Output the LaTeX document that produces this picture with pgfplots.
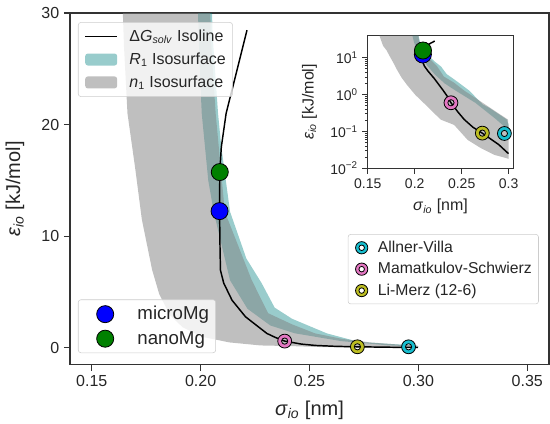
\documentclass[border=0pt]{standalone}
\usepackage{fontspec}
\setmainfont{Liberation Sans}
\usepackage{pgfplots}
\usepackage{pgfplotstable}
\pgfplotsset{compat=1.18}

\definecolor{txt}{HTML}{262626}
\definecolor{spine}{HTML}{333333}
\definecolor{ffcyan}{HTML}{17BECF}
\definecolor{ffpink}{HTML}{E377C2}
\definecolor{ffolive}{HTML}{BCBD22}
\definecolor{mgblue}{HTML}{0000FF}
\definecolor{mggreen}{HTML}{008000}
\definecolor{bandteal}{HTML}{008080}
\definecolor{bandgray}{HTML}{808080}

% ring marker: coloured annulus, open centre
\pgfdeclareplotmark{ffring}{%
  \pgfpathcircle{\pgfpointorigin}{\pgfplotmarksize}%
  \pgfpathcircle{\pgfpointorigin}{0.45\pgfplotmarksize}%
  \pgfseteorule
  \pgfusepathqfillstroke}

\newcommand{\sigio}{\textit{σ}\textsubscript{\textit{io}}}
\newcommand{\epsio}{\textit{ε}\textsubscript{\textit{io}}}

% isoline of Delta G_solv
\pgfplotstableread{
s e
0.2213 28.47
0.2117 21.0
0.2095 18.0
0.2088 15.75
0.2087 12.25
0.2089 9.0
0.2091 6.96
0.2106 5.8
0.2144 4.27
0.2206 2.78
0.2304 1.29
0.2343 0.93
0.2386 0.60
0.2463 0.33
0.2528 0.21
0.2620 0.13
0.2719 0.09
0.2894 0.044
0.2998 0.025
}\isoline

% n1 isosurface band (closed outline)
\pgfplotstableread{
s e
0.1625 40
0.1648 27
0.1664 21
0.1700 16
0.1730 11.5
0.1777 7.0
0.1810 4.8
0.1860 2.9
0.1918 1.83
0.2007 0.98
0.2133 0.48
0.2276 0.21
0.2420 0.15
0.2563 0.059
0.2706 0.035
0.2850 0.023
0.2940 0.020
0.3000 0.018
0.3000 0.12
0.2993 0.21
0.2900 0.30
0.2780 0.48
0.2650 0.80
0.2526 1.29
0.2420 2.10
0.2310 3.10
0.2235 6.05
0.2111 12.2
0.2069 21
0.2046 28
0.2040 40
}\nband

% R1 isosurface band (closed outline)
\pgfplotstableread{
s e
0.1975 40
0.1992 27
0.2005 21
0.2035 15
0.2060 12.2
0.2135 6.05
0.2215 3.5
0.2320 2.0
0.2432 1.3
0.2645 0.6
0.2860 0.22
0.2996 0.11
0.3000 0.15
0.2980 0.21
0.2785 0.45
0.2724 0.54
0.2580 1.29
0.2420 2.6
0.2340 3.6
0.2280 5.8
0.2210 8.0
0.2135 12.2
0.2095 18
0.2080 21
0.2055 28
0.2040 40
}\rband

\pgfplotsset{
  mainbox/.style={scale only axis, width=359.25pt, height=263.6pt,
    xmin=0.14, xmax=0.36, ymin=-1.5, ymax=30},
  legbox/.style={draw=black!20, fill=white, fill opacity=0.8, text opacity=1,
    rounded corners=2pt, text=txt, legend cell align=left},
  mgleg/.style={legend image code/.code={%
    \path (-17pt,0pt) (22pt,0pt); \draw[##1] plot coordinates {(0pt,0pt)};}},
  ffleg/.style={legend image code/.code={%
    \path (-7pt,0pt) (10pt,0pt); \draw[##1, mark size=4.6pt] plot coordinates {(0pt,0pt)};}},
  lineleg/.style={legend image code/.code={%
    \path (-2pt,0pt) (31pt,0pt);
    \draw[black, line width=1.2pt] (0pt,0pt) -- (24pt,0pt);}},
  tealleg/.style={legend image code/.code={%
    \path (-2pt,0pt) (31pt,0pt);
    \fill[bandteal, fill opacity=0.4, draw=none] (0pt,-4.5pt) rectangle (24pt,4.5pt);}},
  grayleg/.style={legend image code/.code={%
    \path (-2pt,0pt) (31pt,0pt);
    \fill[bandgray, fill opacity=0.5, draw=none] (0pt,-4.5pt) rectangle (24pt,4.5pt);}},
  mgmark/.style={only marks, mark=*, mark size=6.4pt,
    mark options={fill=#1, fill opacity=1, draw=black, line width=0.6pt}},
  ffmark/.style={only marks, mark=ffring, mark size=5.2pt,
    mark options={fill=#1, fill opacity=1, draw=black, line width=0.6pt}},
}

\begin{document}
\begin{tikzpicture}
% ---------------- main axis
\begin{axis}[mainbox,
  at={(0,0)}, anchor=south west,
  axis line style={spine, line width=0.9pt},
  tick align=outside, tick pos=left,
  major tick length=4.5pt,
  every tick/.style={spine, line width=0.9pt},
  xtick={0.15,0.20,0.25,0.30,0.35},
  xticklabels={0.15,0.20,0.25,0.30,0.35},
  ytick={0,10,20,30},
  yticklabels={0,10,20,30},
  /pgf/number format/assume math mode=true,
  tick label style={text=txt, font=\fontsize{12}{14}\selectfont},
  xlabel={\sigio\ [nm]}, ylabel={\epsio\ [kJ/mol]},
  label style={text=txt, font=\fontsize{15}{18}\selectfont},
  xlabel style={at={(axis description cs:0.5,-0.129)}, anchor=center},
  ylabel style={at={(axis description cs:-0.115,0.5)}, anchor=center},
  legend style={legbox, at={(0.0167,0.974)}, anchor=north west,
    font=\fontsize{12}{14}\selectfont, row sep=3pt, inner ysep=3.5pt},
]
\addplot[forget plot, fill=bandteal, fill opacity=0.4, draw=none] table[x=s,y=e] {\rband} -- cycle;
\addplot[forget plot, fill=bandgray, fill opacity=0.5, draw=none] table[x=s,y=e] {\nband} -- cycle;
\addplot[forget plot, black, line width=1.1pt] table[x=s,y=e] {\isoline};
\addlegendimage{lineleg}
\addlegendentry{Δ\textit{G}\textsubscript{\textit{solv}} Isoline}
\addlegendimage{tealleg}
\addlegendentry{\textit{R}\textsubscript{1} Isosurface}
\addlegendimage{grayleg}
\addlegendentry{\textit{n}\textsubscript{1} Isosurface}
\end{axis}

% ---------------- Mg points + their legend
\begin{axis}[mainbox, at={(0,0)}, anchor=south west, hide axis,
  legend style={legbox, at={(0.0167,0.0327)}, anchor=south west,
    font=\fontsize{14}{16}\selectfont, row sep=3pt, inner ysep=3pt},
]
\addplot[mgmark=mgblue, mgleg] coordinates {(0.2087,12.25)};
\addlegendentry{microMg}
\addplot[mgmark=mggreen, mgleg] coordinates {(0.2088,15.75)};
\addlegendentry{nanoMg}
\end{axis}

% ---------------- force-field points + their legend
\begin{axis}[mainbox, at={(0,0)}, anchor=south west, hide axis,
  legend style={legbox, at={(0.580,0.371)}, anchor=north west,
    font=\fontsize{11.8}{13.5}\selectfont, row sep=2pt, inner ysep=3pt},
]
\addplot[ffmark=ffcyan, ffleg] coordinates {(0.2955,0.088)};
\addlegendentry{Allner-Villa}
\addplot[ffmark=ffpink, ffleg] coordinates {(0.2386,0.60)};
\addlegendentry{Mamatkulov-Schwierz}
\addplot[ffmark=ffolive, ffleg] coordinates {(0.2720,0.090)};
\addlegendentry{Li-Merz (12-6)}
\end{axis}

% ---------------- inset, log scale
\begin{axis}[scale only axis, width=109.2pt, height=99.5pt,
  at={(223.3pt,147.2pt)}, anchor=south west,
  axis background/.style={fill=white},
  xmin=0.15, xmax=0.305, ymode=log, ymin=0.01, ymax=40,
  axis line style={spine, line width=0.9pt},
  tick align=outside, tick pos=left,
  major tick length=4pt, minor tick length=2.2pt,
  every tick/.style={spine, line width=0.7pt},
  xtick={0.15,0.2,0.25,0.3},
  xticklabels={0.15,0.2,0.25,0.3},
  ytick={0.01,0.1,1,10},
  yticklabels={10\textsuperscript{−2},10\textsuperscript{−1},10\textsuperscript{0},10\textsuperscript{1}},
  tick label style={text=txt, font=\fontsize{10.5}{12}\selectfont},
  xlabel={\sigio\ [nm]}, ylabel={\epsio\ [kJ/mol]},
  label style={text=txt, font=\fontsize{12}{14}\selectfont},
  xlabel style={at={(axis description cs:0.5,-0.29)}, anchor=center},
  ylabel style={at={(axis description cs:-0.40,0.5)}, anchor=center},
]
\addplot[fill=bandteal, fill opacity=0.4, draw=none] table[x=s,y=e] {\rband} -- cycle;
\addplot[fill=bandgray, fill opacity=0.5, draw=none] table[x=s,y=e] {\nband} -- cycle;
\addplot[black, line width=1.1pt] table[x=s,y=e] {\isoline};
\addplot[mgmark=mgblue] coordinates {(0.2087,12.25)};
\addplot[mgmark=mggreen] coordinates {(0.2088,15.75)};
\addplot[ffmark=ffcyan] coordinates {(0.2955,0.088)};
\addplot[ffmark=ffpink] coordinates {(0.2386,0.60)};
\addplot[ffmark=ffolive] coordinates {(0.2720,0.090)};
\end{axis}

\pgfresetboundingbox
\path[use as bounding box] (-52.5pt,-44.6pt) rectangle (360pt,273.4pt);
\end{tikzpicture}
\end{document}
